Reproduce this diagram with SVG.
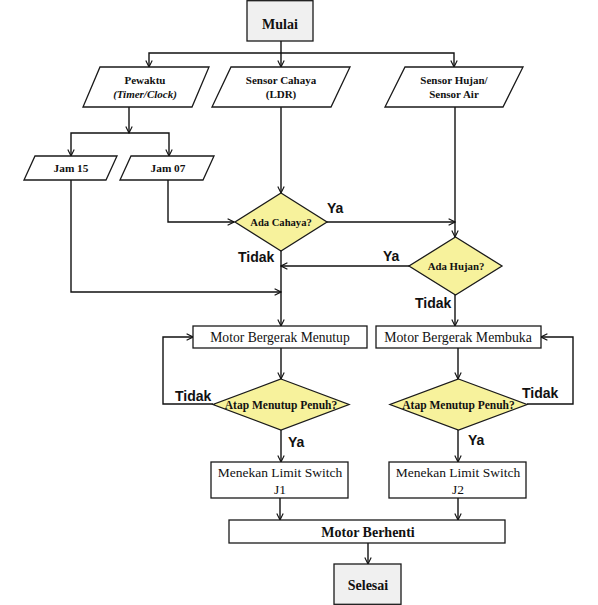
<svg xmlns="http://www.w3.org/2000/svg" width="598" height="605" viewBox="0 0 598 605">
<style>
.shape{stroke:#1a1a1a;stroke-width:1.3;fill:#ffffff}
.term{fill:#f0f0f0}
.dec{fill:#f7f29c}
.conn{stroke:#111;stroke-width:1.4;fill:none;marker-end:url(#arr)}
.tb{font-family:"Liberation Serif","Times New Roman",serif;font-weight:bold;text-anchor:middle;fill:#111}
.tr{font-family:"Liberation Serif","Times New Roman",serif;text-anchor:middle;fill:#111}
.lab{font-family:"Liberation Sans",Arial,sans-serif;font-weight:bold;font-size:14px;fill:#111}
</style>
<defs>
<marker id="arr" viewBox="0 0 10 10" refX="9" refY="5" markerWidth="8" markerHeight="8" markerUnits="userSpaceOnUse" orient="auto">
<path d="M1,1 L9,5 L1,9" fill="none" stroke="#111" stroke-width="1.4"/>
</marker>
</defs>
<rect width="598" height="605" fill="#ffffff"/>

<g id="connectors">
<path class="conn" d="M281,41 V67"/>
<path class="conn" d="M281,53 H149 V67"/>
<path class="conn" d="M281,53 H454 V67"/>
<path class="conn" d="M129,107 V133"/>
<path class="conn" d="M129,133 H71 V156"/>
<path class="conn" d="M129,133 H169 V156"/>
<path class="conn" d="M281,107 V193"/>
<path class="conn" d="M455,107 V237"/>
<path class="conn" d="M168,180 V222 H234"/>
<path class="conn" d="M71,180 V292 H281"/>
<path class="conn" d="M326,222 H455"/>
<path class="conn" d="M409,266 H281"/>
<path class="conn" d="M281,251 V326"/>
<path class="conn" d="M455,295 V326"/>
<path class="conn" d="M281,348 V379"/>
<path class="conn" d="M458,348 V379"/>
<path class="conn" d="M213,404 H163 V337 H193"/>
<path class="conn" d="M527,404 H573 V337 H541"/>
<path class="conn" d="M281,430 V462"/>
<path class="conn" d="M458,430 V462"/>
<path class="conn" d="M280,498 V520"/>
<path class="conn" d="M458,498 V520"/>
<path class="conn" d="M368,543 V564"/>
</g>

<g id="labels">
<text class="lab" x="327" y="213">Ya</text>
<text class="lab" x="383" y="261">Ya</text>
<text class="lab" x="238" y="262">Tidak</text>
<text class="lab" x="415" y="308">Tidak</text>
<text class="lab" x="175" y="401">Tidak</text>
<text class="lab" x="288" y="447">Ya</text>
<text class="lab" x="522" y="398">Tidak</text>
<text class="lab" x="468" y="445">Ya</text>
</g>

<g id="mulai">
<rect class="shape term" x="247" y="0.7" width="66" height="40.3"/>
<text class="tb" x="280" y="29" font-size="14">Mulai</text>
</g>

<g id="pewaktu">
<polygon class="shape" points="100,67 209,67 192,107 83,107"/>
<text class="tb" x="145" y="84" font-size="11">Pewaktu</text>
<text class="tb" x="145" y="98" font-size="11" font-style="italic">(Timer/Clock)</text>
</g>

<g id="sensor-cahaya">
<polygon class="shape" points="231,67 350,67 331,107 212,107"/>
<text class="tb" x="281" y="84" font-size="11">Sensor Cahaya</text>
<text class="tb" x="281" y="98" font-size="11">(LDR)</text>
</g>

<g id="sensor-hujan">
<polygon class="shape" points="405,67 523,67 503,107 385,107"/>
<text class="tb" x="454" y="84" font-size="11">Sensor Hujan/</text>
<text class="tb" x="454" y="98" font-size="11">Sensor Air</text>
</g>

<g id="jam15">
<polygon class="shape" points="35,156 117,156 106,180 24,180"/>
<text class="tb" x="71" y="172" font-size="11.3">Jam 15</text>
</g>

<g id="jam07">
<polygon class="shape" points="131,156 214,156 203,180 120,180"/>
<text class="tb" x="168" y="172" font-size="11.3">Jam 07</text>
</g>

<g id="ada-cahaya">
<polygon class="shape dec" points="281,193 327,222 281,251 235,222"/>
<text class="tb" x="281" y="226" font-size="10.6">Ada Cahaya?</text>
</g>

<g id="ada-hujan">
<polygon class="shape dec" points="455.5,237 502,266 455.5,295 409,266"/>
<text class="tb" x="456" y="270" font-size="10.8">Ada Hujan?</text>
</g>

<g id="motor-menutup">
<rect class="shape" x="193" y="326" width="174" height="22"/>
<text class="tr" x="280" y="342" font-size="13.6">Motor Bergerak Menutup</text>
</g>

<g id="motor-membuka">
<rect class="shape" x="376" y="326" width="165" height="22"/>
<text class="tr" x="458" y="342" font-size="13.8">Motor Bergerak Membuka</text>
</g>

<g id="atap-1">
<polygon class="shape dec" points="281,379 349,404.5 281,430 213,404.5"/>
<text class="tb" x="281" y="408.5" font-size="11.5">Atap Menutup Penuh?</text>
</g>

<g id="atap-2">
<polygon class="shape dec" points="458.5,379 527,404.5 458.5,430 390,404.5"/>
<text class="tb" x="458.5" y="408.5" font-size="11.5">Atap Menutup Penuh?</text>
</g>

<g id="limit-j1">
<rect class="shape" x="211" y="462" width="137" height="36"/>
<text class="tr" x="280" y="477" font-size="13.5">Menekan Limit Switch</text>
<text class="tr" x="280" y="494" font-size="13.5">J1</text>
</g>

<g id="limit-j2">
<rect class="shape" x="389" y="462" width="137" height="36"/>
<text class="tr" x="458" y="477" font-size="13.5">Menekan Limit Switch</text>
<text class="tr" x="458" y="494" font-size="13.5">J2</text>
</g>

<g id="motor-berhenti">
<rect class="shape" x="229" y="520" width="276" height="23"/>
<text class="tb" x="368" y="537" font-size="14">Motor Berhenti</text>
</g>

<g id="selesai">
<rect class="shape term" x="334" y="564" width="67" height="40.3"/>
<text class="tb" x="368" y="590" font-size="14">Selesai</text>
</g>
</svg>
